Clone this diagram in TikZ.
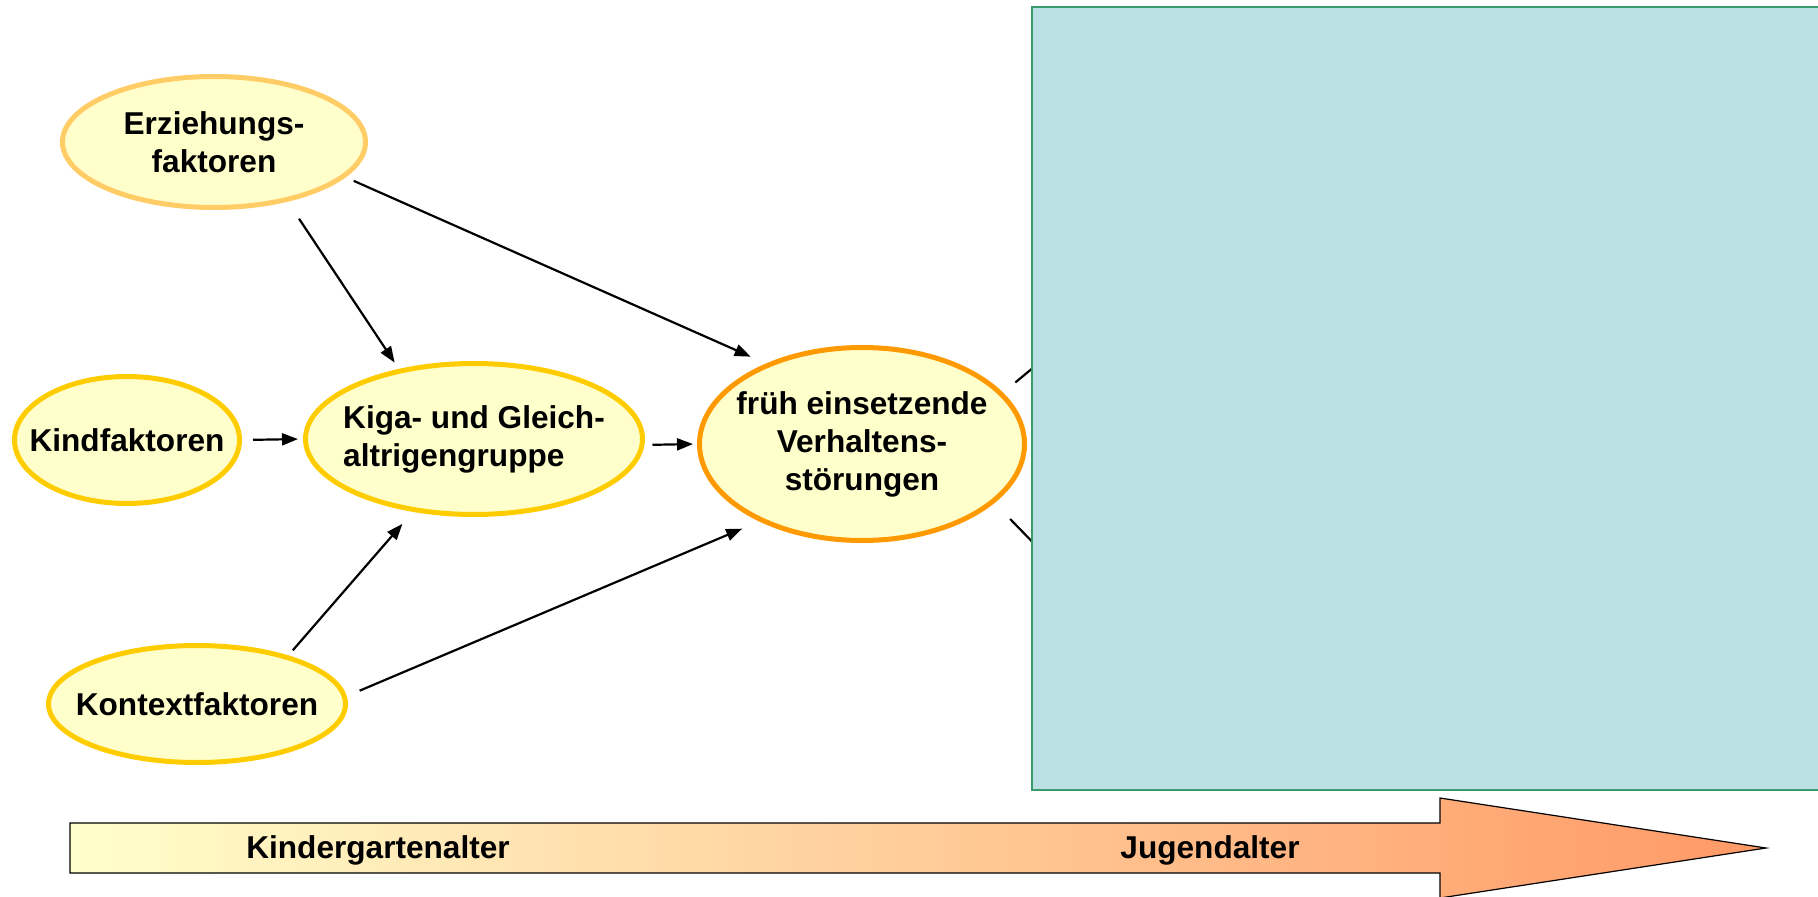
\documentclass[tikz,border=0pt]{standalone}
\usepackage{fontspec}
\setmainfont{Liberation Sans}
\usetikzlibrary{arrows.meta, shapes.geometric}

\definecolor{cream}{HTML}{FFFFCC}
\definecolor{paleorange}{HTML}{FFCC66}
\definecolor{gold}{HTML}{FFCC00}
\definecolor{deeporange}{HTML}{FF9900}
\definecolor{salmon}{HTML}{FF9966}
\definecolor{boxblue}{HTML}{BBE0E3}
\definecolor{boxgreen}{HTML}{3A9A6B}

\begin{document}
\begin{tikzpicture}[x=0.5pt, y=-0.5pt,
    >={Triangle[length=8pt, width=6pt]},
    factor/.style={ellipse, draw=gold, line width=2.5pt, fill=cream,
        inner xsep=-20pt, inner ysep=0pt, align=center,
        font=\fontsize{15.8}{19}\selectfont\bfseries},
    age/.style={anchor=base, font=\fontsize{15.8}{19}\selectfont\bfseries},
    link/.style={line width=1.1pt}]

    \useasboundingbox (0,0) rectangle (1818,897);
    \clip (0,0) rectangle (1818,897);

    \node[factor, draw=paleorange, minimum width=151.5pt, minimum height=65.5pt] (erz)   at (214,142) {Erziehungs-\\faktoren};
    \node[factor, minimum width=112.5pt, minimum height=63.5pt]                  (kind)  at (127,440) {Kindfaktoren};
    \node[factor, align=left, minimum width=168.5pt, minimum height=75.5pt]      (kiga)  at (474,439) {Kiga- und Gleich-\\altrigengruppe};
    \node[factor, minimum width=148.5pt, minimum height=58.5pt]                  (kontext) at (197,704) {Kontextfaktoren};
    \node[factor, draw=deeporange, minimum width=162.5pt, minimum height=96.5pt] (frueh) at (862,444) {früh einsetzende\\Verhaltens-\\störungen};

    % ends behind the box
    \coordinate (hid_1) at (1093,318);
    \coordinate (hid_2) at (1088,599);

    \path[->, link] (erz.-39.5) edge [shorten <=10.25pt, shorten >=3.8pt] (kiga.137.8)
        (erz.-15.7) edge [shorten <=4.4pt, shorten >=8.4pt] (frueh.140.3)
        (kind.east) edge [shorten <=5.5pt, shorten >=2.5pt] (kiga.west)
        (kiga.-2) edge [shorten <=4pt, shorten >=2pt] (frueh.180.5)
        (kontext.28.4) edge [shorten <=3.4pt, shorten >=8pt] (kiga.230.3)
        (kontext.3.7) edge [shorten <=7pt, shorten >=9.25pt] (frueh.217.4)
        ;
    \draw[link, shorten <=8pt] (frueh.20.3) -- (hid_1);
    \draw[link, shorten <=11.2pt] (frueh.-24.6) -- (hid_2);

    \node[draw=boxgreen, fill=boxblue, line width=1pt, inner sep=0pt, outer sep=0pt,
        anchor=north west, minimum width=403pt, minimum height=391.5pt] (box) at (1032,7) {};

    % time arrow
    \path[draw=black, line width=0.6pt, left color=cream, right color=salmon]
        (70,823) -- (1440,823) -- (1440,798) -- (1766,848) -- (1440,898)
        -- (1440,873) -- (70,873) -- cycle;
    \node[age] (kalter) at (378,858) {Kindergartenalter};
    \node[age] (jalter) at (1210,858) {Jugendalter};

\end{tikzpicture}
\end{document}
